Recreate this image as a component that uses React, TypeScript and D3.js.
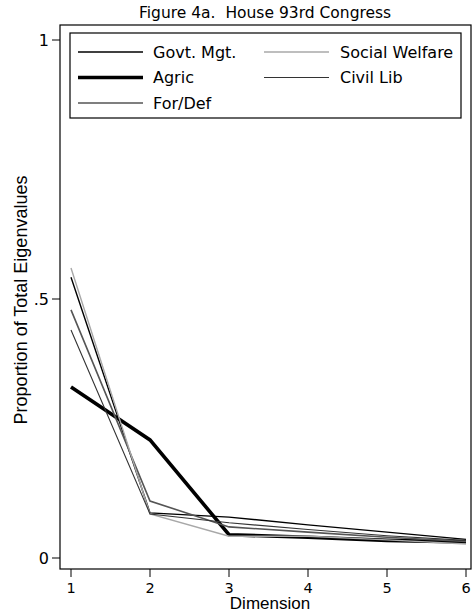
import React from "react";
import * as d3 from "d3";

const dimensions = [1, 2, 3, 4, 5, 6];
const govtMgt = [0.542, 0.087, 0.079, 0.064, 0.05, 0.036];
const agric = [0.33, 0.228, 0.045, 0.04, 0.034, 0.031];
const forDef = [0.479, 0.11, 0.06, 0.05, 0.04, 0.032];
const socialWelfare = [0.56, 0.085, 0.042, 0.042, 0.035, 0.027];
const civilLib = [0.44, 0.085, 0.068, 0.055, 0.043, 0.034];
const yTicks = [0, 0.5, 1];
const yTickLabels = ["0", ".5", "1"];

const series = [
  { name: "Govt. Mgt.", values: govtMgt, color: "#000", width: 1.4 },
  { name: "Agric", values: agric, color: "#000", width: 3.6 },
  { name: "For/Def", values: forDef, color: "#555", width: 1.6 },
  { name: "Social Welfare", values: socialWelfare, color: "#a8a8a8", width: 1.4 },
  { name: "Civil Lib", values: civilLib, color: "#333", width: 1.1 },
];

const W = 473;
const H = 615;
const box = { left: 60, right: 471, top: 25, bottom: 569 };
const font = "'DejaVu Sans', sans-serif";
const font2 = "'Liberation Sans', Arial, sans-serif";

export default function App() {
  const x = d3.scaleLinear().domain([1, 6]).range([71, 466]);
  const y = d3.scaleLinear().domain([0, 1]).range([558, 40]);
  const line = d3
    .line<number>()
    .x((_, i) => x(dimensions[i]))
    .y((d) => y(d));

  const legendPos = [
    { lx: 78, tx: 153, ty: 52 },
    { lx: 78, tx: 153, ty: 77.5 },
    { lx: 78, tx: 153, ty: 103 },
    { lx: 264, tx: 340, ty: 52 },
    { lx: 264, tx: 340, ty: 77.5 },
  ];

  return (
    <svg
      width={W}
      height={H}
      style={{ position: "absolute", left: 0, top: 0, background: "#fff" }}
      fontFamily={font}
    >
      <rect x={0} y={0} width={W} height={H} fill="#fff" />
      <text x={139} y={18} fontSize={15.5} fill="#000">
        Figure 4a.{"\u00a0\u00a0"}House 93rd Congress
      </text>
      <rect
        x={box.left}
        y={box.top}
        width={box.right - box.left}
        height={box.bottom - box.top}
        fill="none"
        stroke="#000"
        strokeWidth={1.2}
      />
      {series.map((s) => (
        <path
          key={s.name}
          d={line(s.values) || ""}
          fill="none"
          stroke={s.color}
          strokeWidth={s.width}
          strokeLinejoin="miter"
        />
      ))}
      {/* legend */}
      <rect x={70} y={33} width={391} height={85} fill="#fff" stroke="#000" strokeWidth={1.2} />
      {series.map((s, i) => {
        const p = legendPos[i];
        return (
          <g key={s.name}>
            <line
              x1={p.lx}
              x2={p.lx + 65}
              y1={p.ty}
              y2={p.ty}
              stroke={s.color}
              strokeWidth={s.width}
            />
            <text x={p.tx} y={p.ty} dy="0.35em" fontSize={16} fill="#000">
              {s.name}
            </text>
          </g>
        );
      })}
      {/* y axis ticks */}
      {yTicks.map((t, i) => (
        <g key={t}>
          <line x1={52} x2={box.left} y1={y(t)} y2={y(t)} stroke="#000" strokeWidth={1} />
          <text x={49} y={y(t)} dy="0.36em" textAnchor="end" fontSize={16} fill="#000">
            {yTickLabels[i]}
          </text>
        </g>
      ))}
      {/* x axis ticks */}
      {dimensions.map((d) => (
        <g key={d}>
          <line x1={x(d)} x2={x(d)} y1={box.bottom} y2={box.bottom + 8} stroke="#000" strokeWidth={1} />
          <text x={x(d)} y={587.5} dy="0.35em" textAnchor="middle" fontSize={14.5} fill="#000">
            {d}
          </text>
        </g>
      ))}
      <text x={270} y={609} textAnchor="middle" fontSize={17} fontFamily={font2} fill="#000">
        Dimension
      </text>
      <text
        transform={`translate(27, 300) rotate(-90)`}
        textAnchor="middle"
        fontSize={18}
        fontFamily={font2}
        fill="#000"
      >
        Proportion of Total Eigenvalues
      </text>
    </svg>
  );
}
